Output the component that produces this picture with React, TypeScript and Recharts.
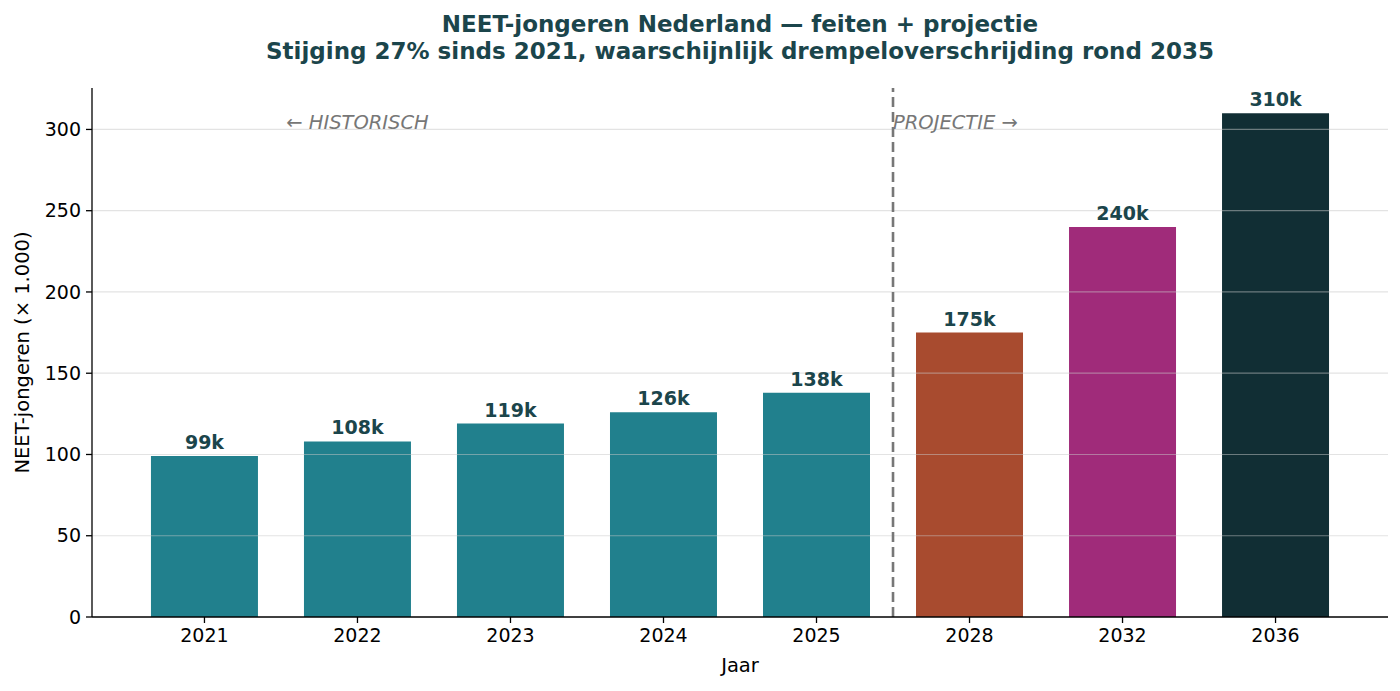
import { Bar, BarChart, Cell, LabelList, ReferenceDot, ReferenceLine, XAxis, YAxis } from "recharts";

// Chart values.
const YEARS = ["2021", "2022", "2023", "2024", "2025", "2028", "2032", "2036"];
const NEET_K = [99, 108, 119, 126, 138, 175, 240, 310];
const BAR_COLORS = [
  "#21808d", // historisch
  "#21808d",
  "#21808d",
  "#21808d",
  "#21808d",
  "#a84b2f", // 2028
  "#a02b7a", // 2032
  "#112e34", // 2036
];
const Y_TICKS = [0, 50, 100, 150, 200, 250, 300];
const GRID_VALUES = [50, 100, 150, 200, 250, 300];
const SPLIT_POS = 4.5; // between 2025 and 2028
const NOTE_Y = 304;

const TITLE = "NEET-jongeren Nederland — feiten + projectie";
const SUBTITLE = "Stijging 27% sinds 2021, waarschijnlijk drempeloverschrijding rond 2035";

const FONT = "'DejaVu Sans', sans-serif";
const INK = "#1b454b";

const data = YEARS.map((year, i) => ({ pos: i, year, value: NEET_K[i] }));

export default function App() {
  return (
    <div style={{ position: "absolute", left: 0, top: 0, width: 1400, height: 691, background: "#fff", fontFamily: FONT }}>
      <div
        style={{
          position: "absolute",
          left: 190,
          width: 1100,
          top: 11,
          textAlign: "center",
          color: INK,
          fontWeight: "bold",
          fontSize: 23,
          lineHeight: "27px",
        }}
      >
        <div>{TITLE}</div>
        <div>{SUBTITLE}</div>
      </div>
      <BarChart width={1400} height={691} data={data} margin={{ top: 88, right: 12, bottom: 44, left: 0 }}>
        <XAxis
          type="number"
          dataKey="pos"
          domain={[-0.735, 7.735]}
          allowDataOverflow
          ticks={[0, 1, 2, 3, 4, 5, 6, 7]}
          tickFormatter={(v) => YEARS[v] ?? ""}
          height={30}
          tickSize={6}
          tickMargin={6}
          tick={{ fill: "#000", fontSize: 19, fontFamily: FONT }}
          axisLine={{ stroke: "#000", strokeWidth: 1.3 }}
          tickLine={{ stroke: "#000", strokeWidth: 1.3 }}
          label={{ value: "Jaar", position: "insideBottom", offset: -25, fill: "#000", fontSize: 19.5, fontFamily: FONT }}
        />
        <YAxis
          type="number"
          domain={[0, 325.5]}
          ticks={Y_TICKS}
          width={92}
          tickSize={6}
          tickMargin={5}
          tick={{ fill: "#000", fontSize: 19, fontFamily: FONT }}
          axisLine={{ stroke: "#000", strokeWidth: 1.3 }}
          tickLine={{ stroke: "#000", strokeWidth: 1.3 }}
          label={({ viewBox }: any) => {
            const cy = viewBox.y + viewBox.height / 2;
            return (
              <text
                x={22}
                y={cy}
                transform={`rotate(-90 22 ${cy})`}
                textAnchor="middle"
                dominantBaseline="central"
                fill="#000"
                fontSize={19.5}
                fontFamily={FONT}
              >
                NEET-jongeren (× 1.000)
              </text>
            );
          }}
        />
        <Bar dataKey="value" barSize={107} isAnimationActive={false}>
          {data.map((d, i) => (
            <Cell key={d.year} fill={BAR_COLORS[i]} />
          ))}
          <LabelList
            dataKey="value"
            position="top"
            offset={7}
            formatter={(v: any) => `${v}k`}
            fill={INK}
            fontSize={19}
            fontWeight="bold"
            fontFamily={FONT}
          />
        </Bar>
        {GRID_VALUES.map((v) => (
          <ReferenceLine key={v} y={v} stroke="#c8c8c8" strokeOpacity={0.5} strokeWidth={1.2} />
        ))}
        <ReferenceLine x={SPLIT_POS} stroke="#777777" strokeWidth={2.6} strokeDasharray="10 5" />
        <ReferenceDot
          x={1}
          y={NOTE_Y}
          r={0}
          fill="none"
          stroke="none"
          label={({ viewBox }: any) => (
            <text
              x={viewBox.x + (viewBox.width ?? 0) / 2}
              y={viewBox.y + (viewBox.height ?? 0) / 2}
              textAnchor="middle"
              dominantBaseline="central"
              fill="#777777"
              fontStyle="italic"
              fontSize={19.5}
              fontFamily={FONT}
            >
              ← HISTORISCH
            </text>
          )}
        />
        <ReferenceDot
          x={SPLIT_POS}
          y={NOTE_Y}
          r={0}
          fill="none"
          stroke="none"
          label={({ viewBox }: any) => (
            <text
              x={viewBox.x + (viewBox.width ?? 0) / 2}
              y={viewBox.y + (viewBox.height ?? 0) / 2}
              textAnchor="start"
              dominantBaseline="central"
              fill="#777777"
              fontStyle="italic"
              fontSize={19.5}
              fontFamily={FONT}
            >
              PROJECTIE →
            </text>
          )}
        />
      </BarChart>
    </div>
  );
}
